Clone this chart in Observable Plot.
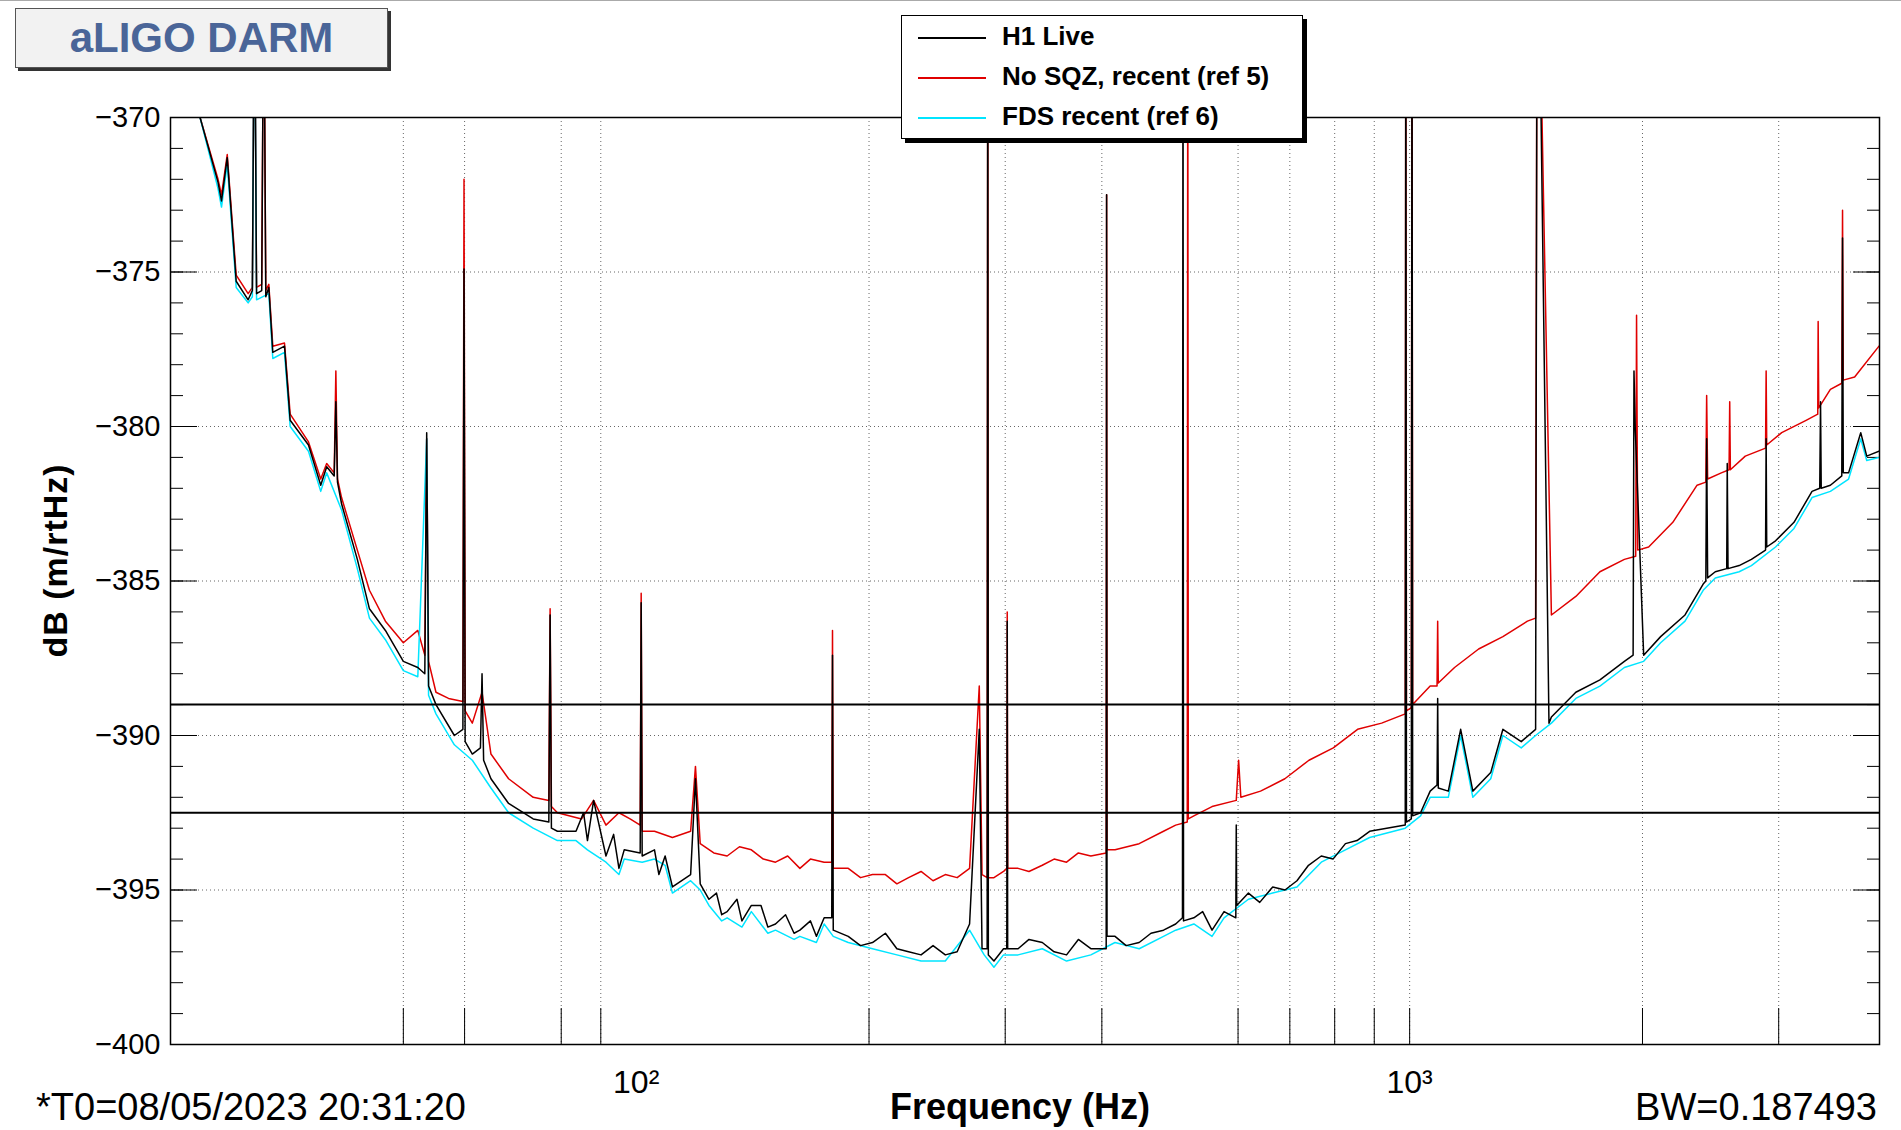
<!DOCTYPE html>
<html><head><meta charset="utf-8">
<script src="https://cdn.jsdelivr.net/npm/d3@7"></script>
<script src="https://cdn.jsdelivr.net/npm/@observablehq/plot@0.6"></script>
<style>
body{margin:0;background:#fff;font-family:"Liberation Sans",Arial,sans-serif;}
#wrap{position:relative;width:1901px;height:1130px;border-top:1px solid #aaa;box-sizing:border-box;}
.abs{position:absolute;}
#title{left:15px;top:7px;width:371px;height:58px;border:1px solid #555;background:#f2f2f2;box-shadow:3px 3px 0 #333;font-weight:bold;color:#4a6598;font-size:42px;line-height:58px;text-align:center;}
#legend{left:901px;top:14px;width:400px;height:122px;border:1px solid #000;background:#fff;box-shadow:4px 4px 0 #000;}
.li{position:absolute;left:16px;font-weight:bold;font-size:26px;height:40px;line-height:40px;}
.li span{display:inline-block;width:68px;height:2px;vertical-align:middle;margin-right:16px;}
#t0{left:36px;top:1085px;font-size:38px;}
#bw{right:24px;top:1085px;font-size:38px;}
#xl{left:890px;top:1085px;font-size:36px;font-weight:bold;}
#yl{left:-65px;top:540px;font-size:34px;font-weight:bold;transform:rotate(-90deg);width:240px;text-align:center;letter-spacing:1px;}
</style></head><body>
<div id="wrap">
<div id="chart" class="abs" style="left:0;top:0"></div>
<div id="title" class="abs">aLIGO DARM</div>
<div id="legend" class="abs">
 <div class="li" style="top:0px"><span style="background:#000"></span>H1 Live</div>
 <div class="li" style="top:40px"><span style="background:#e00000"></span>No SQZ, recent (ref 5)</div>
 <div class="li" style="top:80px"><span style="background:#00e5ff"></span>FDS recent (ref 6)</div>
</div>
<div id="t0" class="abs">*T0=08/05/2023 20:31:20</div>
<div id="xl" class="abs">Frequency (Hz)</div>
<div id="bw" class="abs">BW=0.187493</div>
<div id="yl" class="abs">dB (m/rtHz)</div>
</div>
<script>
const liveF=[27.3,28.8,29.1,29.6,30.4,31.5,31.9,32.1,32.3,32.8,33.0,33.2,33.5,33.9,35.1,35.7,37.7,39.1,39.8,40.7,40.9,41.1,41.6,43.6,45.2,47.4,50,52.2,53.3,53.6,53.9,55.1,58.2,59.7,59.9,60.1,61.4,62.9,63.2,63.5,64.9,68.4,73.6,77.1,77.4,77.7,79.1,83.6,85.5,86.5,88.1,91.4,93.5,95,96.5,101.2,101.5,101.8,105.6,107,109,111.4,117.6,119.3,121,124.2,127,129,131.1,135,137,140.9,145,148,151.4,156,160,162.8,168,171,175,179,179.4,179.8,188,195,202.1,210,217.3,225,233.5,242,251,260,269.8,277.7,280,284.3,284.8,285.3,290.1,298.5,301.4,301.8,302.2,311.7,322,335,347,360.1,373,387.1,405.2,405.7,406.2,416,430,447,463,480.6,498.3,508.5,509.3,510.1,526,540,555.3,575.5,596,596.8,597.6,618.8,640,665.2,690,715,740,768.7,796,826,855,887.7,987,988.6,990.5,1005,1007,1009,1033,1063,1085,1087,1089,1122,1164,1207,1273,1320,1394,1455,1461,1470,1514,1525,1640,1762,1895,1945,1950,1957,2007,2111,2270,2396,2415,2421,2428,2484,2570,2574,2580,2667,2766,2885,2890,2895,2972,3140,3313,3390,3398,3405,3499,3620,3628,3636,3694,3830,3899,4044];
const liveV=[-370,-372.1,-372.7,-371.3,-375.3,-375.9,-375.6,-365,-375.7,-375.6,-365,-375.8,-375.5,-377.6,-377.4,-379.8,-380.6,-381.9,-381.3,-381.6,-379.2,-381.8,-382.5,-384.3,-385.9,-386.6,-387.6,-387.8,-388.0,-380.2,-388.4,-389.0,-390.0,-389.8,-374.9,-390.2,-390.6,-390.4,-388.0,-390.8,-391.4,-392.2,-392.7,-392.8,-386.1,-393.0,-393.1,-393.1,-392.5,-393.4,-392.1,-393.9,-393.2,-394.3,-393.7,-393.8,-385.7,-393.9,-393.7,-394.5,-393.9,-394.9,-394.5,-391.4,-394.8,-395.3,-395.1,-395.8,-395.7,-395.3,-396.0,-395.5,-395.5,-396.2,-396.1,-395.8,-396.4,-396.3,-396.0,-396.5,-395.9,-395.9,-387.4,-396.3,-396.5,-396.8,-396.7,-396.4,-396.9,-397.0,-397.1,-396.8,-397.1,-397.0,-396.1,-389.8,-396.9,-396.9,-365,-397.1,-397.3,-396.9,-396.9,-386.3,-396.9,-396.9,-396.6,-396.7,-397.0,-397.1,-396.6,-396.9,-396.9,-372.5,-396.5,-396.5,-396.8,-396.7,-396.4,-396.3,-396.1,-395.9,-365,-396.0,-395.9,-395.7,-396.3,-395.7,-395.9,-392.9,-395.5,-395.1,-395.4,-394.9,-395.0,-394.7,-394.2,-393.9,-394.0,-393.5,-393.4,-393.1,-392.9,-365,-392.8,-392.7,-365,-392.6,-392.5,-391.8,-391.6,-388.8,-391.7,-391.8,-389.8,-391.8,-391.2,-389.8,-390.2,-389.8,-365,-365,-389.6,-389.4,-388.6,-388.2,-387.6,-387.4,-378.2,-380,-387.4,-386.8,-386.1,-385.1,-385,-380.4,-384.9,-384.7,-384.6,-381.2,-384.6,-384.5,-384.3,-384.0,-380.4,-383.9,-383.7,-383.1,-382.1,-382.0,-379.2,-382.0,-381.9,-381.6,-373.9,-381.5,-381.5,-380.2,-380.96,-380.8];
const nosqzF=[27.3,28.8,29.1,29.6,30.4,31.5,31.9,32.1,32.3,32.8,33.0,33.2,33.5,33.9,35.1,35.7,37.7,39.1,39.8,40.7,40.9,41.1,41.6,43.6,45.2,47.4,50,52.2,53.3,53.6,53.9,55.1,57.2,59.7,59.9,60.1,61.4,63.2,64.9,68.4,73.6,77.1,77.4,77.7,79.1,85,88.1,91.4,95,98.2,101.2,101.5,101.8,105.6,111.4,117.6,119.3,121,126,131.1,136,140.9,146,151.4,157,162.8,168,175,179,179.4,179.8,188,195,202.1,210,217.3,225,233.5,242,251,260,269.8,277.7,280,284.3,284.8,285.3,290.1,298.5,301.4,301.8,302.2,311.7,322,335,347,360.1,373,387.1,405.2,405.7,406.2,416,447,480.6,498.3,515.8,516.6,517.4,526,555.3,596.8,601,605,641.5,689.7,741,796.7,856.4,920,987,988.6,990.5,1005,1007,1009,1063,1085,1087,1089,1143,1228,1320,1420,1455,1461,1470,1525,1640,1762,1895,1960,1965,1972,2037,2189,2353,2415,2421,2428,2529,2588,2593,2598,2716,2885,2890,2895,3027,3255,3370,3374,3380,3499,3620,3628,3636,3761,4044];
const nosqzV=[-370,-372.0,-372.5,-371.2,-375.1,-375.7,-375.5,-365,-375.5,-375.4,-365,-375.6,-375.4,-377.4,-377.3,-379.6,-380.5,-381.7,-381.2,-381.5,-378.2,-381.7,-382.3,-384.0,-385.3,-386.3,-387.0,-386.6,-387.4,-380.4,-387.6,-388.6,-388.8,-388.9,-372.0,-389.2,-389.6,-388.6,-390.6,-391.4,-392.0,-392.1,-385.9,-392.3,-392.5,-392.7,-392.1,-392.9,-392.5,-392.7,-392.9,-385.4,-393.1,-393.1,-393.3,-393.1,-391.0,-393.5,-393.8,-393.9,-393.6,-393.7,-394.0,-394.1,-393.9,-394.3,-394.0,-394.1,-394.1,-386.6,-394.3,-394.3,-394.6,-394.5,-394.5,-394.8,-394.6,-394.4,-394.7,-394.5,-394.6,-394.3,-388.4,-394.5,-394.6,-365,-394.6,-394.6,-394.4,-394.3,-386.0,-394.3,-394.3,-394.4,-394.2,-394.0,-394.1,-393.8,-393.9,-393.8,-372.5,-393.7,-393.7,-393.5,-393.1,-392.9,-392.8,-365,-392.7,-392.6,-392.3,-392.1,-390.8,-392.0,-391.8,-391.4,-390.8,-390.4,-389.8,-389.6,-389.3,-365,-389.2,-389.1,-365,-389.0,-388.4,-388.4,-386.3,-388.3,-387.8,-387.2,-386.8,-386.3,-386.2,-365,-365,-386.1,-385.5,-384.7,-384.3,-384.2,-376.4,-384.0,-383.9,-383.1,-381.9,-381.8,-379.0,-381.7,-381.5,-381.4,-379.2,-381.4,-380.96,-380.7,-378.2,-380.6,-380.2,-379.8,-379.6,-376.6,-379.4,-378.8,-378.6,-373.0,-378.5,-378.4,-377.4];
const fdsF=[27.3,28.8,29.1,29.6,30.4,31.5,31.9,32.1,32.3,33.5,33.9,35.1,35.7,37.7,39.1,39.8,41.6,43.6,45.2,47.4,50,52.2,53.6,53.9,55.1,58.2,61.4,64.9,68.4,73.6,79.1,83.6,86.5,91.4,95,96.5,101.8,105.6,109,111.4,117.6,121,124.2,129,131.1,137,140.9,148,151.4,160,162.8,171,175,179.8,188,202.1,217.3,233.5,251,269.8,281.8,290.1,298.5,311.7,335,360.1,387.1,416,447,480.6,498.3,526,555.3,575.5,618.8,665.2,715,768.7,826,887.7,987,1033,1063,1122,1164,1207,1273,1320,1394,1455,1525,1640,1762,1895,2007,2111,2270,2396,2484,2667,2766,2972,3140,3313,3499,3694,3830,3899,4044];
const fdsV=[-370,-372.3,-372.9,-371.5,-375.5,-376.0,-375.8,-365,-375.9,-375.7,-377.8,-377.6,-380.0,-380.8,-382.1,-381.5,-382.7,-384.6,-386.2,-386.9,-387.9,-388.1,-380.4,-388.7,-389.3,-390.3,-390.8,-391.7,-392.5,-393.0,-393.4,-393.4,-393.7,-394.1,-394.5,-394.0,-394.1,-394.0,-394.2,-395.1,-394.7,-395.0,-395.5,-396.0,-395.9,-396.2,-395.7,-396.4,-396.3,-396.6,-396.5,-396.7,-396.1,-396.5,-396.7,-396.9,-397.1,-397.3,-397.3,-396.3,-397.1,-397.5,-397.1,-397.1,-396.9,-397.3,-397.1,-396.7,-396.9,-396.5,-396.3,-396.1,-396.5,-395.9,-395.3,-395.1,-394.9,-394.1,-393.7,-393.3,-393.0,-392.6,-392.0,-392.0,-390.0,-392.0,-391.4,-390.0,-390.4,-390.0,-389.6,-388.8,-388.4,-387.8,-387.6,-387.0,-386.3,-385.3,-384.9,-384.7,-384.5,-383.9,-383.3,-382.3,-382.1,-381.7,-380.4,-381.1,-381.0];
const refLines=[-389.0,-392.5];
const xGrid=[50,60,80,90,200,300,400,600,700,800,900,1000,2000,3000];
const xLabels=[100,1000];
const yMajor=[-400,-395,-390,-385,-380,-375,-370];
const yMinor=d3.range(-400,-369,1);

const toRows=(F,V)=>F.map((f,i)=>({f,v:V[i]}));
const live=toRows(liveF,liveV), nosqz=toRows(nosqzF,nosqzV), fds=toRows(fdsF,fdsV);
const font='"Liberation Sans",Arial,sans-serif';
const chart=Plot.plot({
  width:1901,height:1130,
  marginLeft:170,marginRight:22,marginTop:116,marginBottom:87,
  style:{fontFamily:font,fontSize:"28px",background:"transparent",color:"#000"},
  x:{type:"log",domain:[25,4050]},
  y:{domain:[-400,-370]},
  marks:[
    Plot.ruleY(yMajor.slice(1,-1),{stroke:"#000",strokeOpacity:0.6,strokeDasharray:"1,3",strokeWidth:1}),
    Plot.ruleX(xGrid,{stroke:"#000",strokeOpacity:0.6,strokeDasharray:"1,3",strokeWidth:1}),
    Plot.axisX(xGrid,{anchor:"bottom",tickSize:-36,tickFormat:()=>"",label:null}),
    Plot.axisX(xLabels,{anchor:"bottom",tickSize:0,tickPadding:26,tickFormat:d=>d===100?"10²":"10³",fontSize:32,label:null}),
    Plot.axisY(yMajor,{anchor:"left",tickSize:-27,tickFormat:()=>"",label:null}),
    Plot.axisY(yMinor,{anchor:"left",tickSize:-13,tickFormat:()=>"",label:null}),
    Plot.axisY(yMajor,{anchor:"right",tickSize:-27,tickFormat:()=>"",label:null}),
    Plot.axisY(yMinor,{anchor:"right",tickSize:-13,tickFormat:()=>"",label:null}),
    Plot.axisY(yMajor,{anchor:"left",tickSize:0,tickPadding:10,fontSize:29,label:null}),
    Plot.line(nosqz,{x:"f",y:"v",stroke:"#e00000",strokeWidth:1.5,clip:true}),
    Plot.line(fds,{x:"f",y:"v",stroke:"#00e5ff",strokeWidth:1.5,clip:true}),
    Plot.line(live,{x:"f",y:"v",stroke:"#000",strokeWidth:1.5,clip:true}),
    Plot.ruleY(refLines,{stroke:"#000",strokeWidth:2}),
    Plot.frame({stroke:"#000",strokeWidth:1.5})
  ]
});
document.getElementById("chart").append(chart);
</script>
</body></html>
